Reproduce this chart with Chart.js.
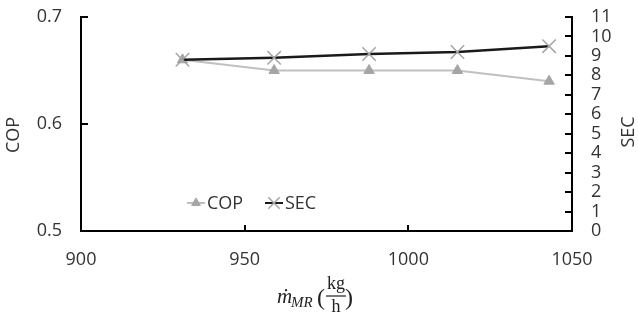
<!DOCTYPE html>
<html>
<head>
<meta charset="utf-8">
<script src="https://cdn.jsdelivr.net/npm/chart.js@4.4.1/dist/chart.umd.min.js"></script>
<style>
  html, body { margin: 0; padding: 0; background: #fff; }
  #wrap { width: 638px; height: 327px; }
</style>
</head>
<body>
<div id="wrap"><canvas id="grafico"></canvas></div>
<script>
// ----- dados -----
const vazao = [931, 959, 988, 1015, 1043];          // m_MR (kg/h)
const copValores = [0.66, 0.65, 0.65, 0.65, 0.64];
const secValores = [8.8, 8.9, 9.1, 9.2, 9.5];
const ticksX = [900, 950, 1000, 1050];
const ticksCop = [0.5, 0.6, 0.7];
const ticksSec = [0, 1, 2, 3, 4, 5, 6, 7, 8, 9, 10, 11];

const FONTE = '"Open Sans", sans-serif';
const COR_TEXTO = "#333333";
const COR_COP = "#a5a5a5";
const COR_SEC = "#1a1a1a";

// ticks para dentro, títulos dos eixos e legenda
const extras = {
  id: "extras",
  afterDraw(chart) {
    const ctx = chart.ctx;
    const { x, y, y2 } = chart.scales;
    const area = chart.chartArea;
    ctx.save();
    ctx.strokeStyle = "#000";
    ctx.lineWidth = 2;
    ctx.beginPath();
    ticksX.slice(1, -1).forEach(v => {
      const px = Math.round(x.getPixelForValue(v));
      ctx.moveTo(px, area.bottom);
      ctx.lineTo(px, area.bottom - 6);
    });
    ticksCop.slice(1).forEach(v => {
      const py = Math.round(y.getPixelForValue(v));
      ctx.moveTo(area.left, py);
      ctx.lineTo(area.left + 7, py);
    });
    ticksSec.slice(1).forEach(v => {
      const py = Math.round(y2.getPixelForValue(v));
      ctx.moveTo(area.right, py);
      ctx.lineTo(area.right - 7, py);
    });
    ctx.stroke();

    // títulos verticais
    ctx.fillStyle = COR_TEXTO;
    ctx.font = "18px " + FONTE;
    ctx.textAlign = "center";
    ctx.textBaseline = "middle";
    [["COP", 13, 135], ["SEC", 628, 132]].forEach(([t, tx, ty]) => {
      ctx.save();
      ctx.translate(tx, ty);
      ctx.rotate(-Math.PI / 2);
      ctx.fillText(t, 0, 1);
      ctx.restore();
    });

    // título do eixo x: m ponto MR (kg/h)
    ctx.fillStyle = "#222";
    ctx.textBaseline = "alphabetic";
    ctx.textAlign = "left";
    ctx.font = 'italic 21px "Liberation Serif", serif';
    ctx.fillText("\u1E41", 277, 303);
    ctx.font = 'italic 15px "Liberation Serif", serif';
    ctx.fillText("MR", 291, 307);
    ctx.font = '24px "Liberation Serif", serif';
    ctx.fillText("(", 317, 305);
    ctx.fillText(")", 345, 305);
    ctx.textAlign = "center";
    ctx.font = '18px "Liberation Serif", serif';
    ctx.fillText("kg", 336, 289);
    ctx.fillText("h", 336, 312);
    ctx.lineWidth = 1.2;
    ctx.strokeStyle = "#222";
    ctx.beginPath();
    ctx.moveTo(326, 296);
    ctx.lineTo(346, 296);
    ctx.stroke();

    // legenda
    const legenda = [
      { txt: "COP", x0: 187, ds: chart.data.datasets[0], cor: "#c0c0c0", lw: 2 },
      { txt: "SEC", x0: 265, ds: chart.data.datasets[1], cor: COR_SEC, lw: 2 }
    ];
    const ly = 203;
    legenda.forEach(l => {
      ctx.strokeStyle = l.cor;
      ctx.lineWidth = l.lw;
      ctx.beginPath();
      ctx.moveTo(l.x0, ly);
      ctx.lineTo(l.x0 + 18, ly);
      ctx.stroke();
      ctx.fillStyle = l.ds.pointBackgroundColor;
      ctx.strokeStyle = l.ds.pointBorderColor;
      ctx.lineWidth = l.ds.pointBorderWidth;
      Chart.helpers.drawPoint(ctx, {
        pointStyle: l.ds.pointStyle,
        radius: l.ds.pointRadius * 0.85,
        borderWidth: l.ds.pointBorderWidth,
        rotation: 0
      }, l.x0 + 9, ly);
      ctx.fillStyle = COR_TEXTO;
      ctx.font = "18px " + FONTE;
      ctx.textAlign = "left";
      ctx.textBaseline = "middle";
      ctx.fillText(l.txt, l.x0 + 20, ly + 1);
    });
    ctx.restore();
  }
};

// largura fixa dos eixos verticais e topo da área em 17px
function fixaEixoY(largura) {
  return s => {
    s.width = largura;
    s.paddingTop = 17;
    s.paddingBottom = 0;
  };
}

new Chart(document.getElementById("grafico"), {
  type: "scatter",
  data: {
    datasets: [
      {
        label: "COP",
        data: vazao.map((v, i) => ({ x: v, y: copValores[i] })),
        yAxisID: "y",
        showLine: true,
        borderColor: "#c0c0c0",
        borderWidth: 2,
        pointStyle: "triangle",
        pointRadius: 6,
        pointBackgroundColor: COR_COP,
        pointBorderColor: COR_COP,
        pointBorderWidth: 1,
        order: 1
      },
      {
        label: "SEC",
        data: vazao.map((v, i) => ({ x: v, y: secValores[i] })),
        yAxisID: "y2",
        showLine: true,
        borderColor: COR_SEC,
        borderWidth: 2.5,
        pointStyle: "crossRot",
        pointRadius: 9.5,
        pointBackgroundColor: COR_COP,
        pointBorderColor: COR_COP,
        pointBorderWidth: 1.5,
        order: 0
      }
    ]
  },
  options: {
    responsive: true,
    maintainAspectRatio: false,
    animation: false,
    layout: { padding: 0 },
    plugins: { legend: { display: false }, tooltip: { enabled: false } },
    scales: {
      x: {
        type: "linear",
        min: 900,
        max: 1050,
        afterBuildTicks: s => { s.ticks = ticksX.map(v => ({ value: v })); },
        afterFit: s => { s.height = 96; },
        grid: { display: false, drawTicks: false },
        border: { display: true, color: "#000", width: 2 },
        ticks: { color: COR_TEXTO, font: { family: FONTE, size: 18 }, padding: 18, maxRotation: 0, callback: v => String(v) }
      },
      y: {
        position: "left",
        min: 0.5,
        max: 0.7,
        afterBuildTicks: s => { s.ticks = ticksCop.map(v => ({ value: v })); },
        afterFit: fixaEixoY(81),
        grid: { display: false, drawTicks: false },
        border: { display: true, color: "#000", width: 2 },
        ticks: { color: COR_TEXTO, font: { family: FONTE, size: 18 }, padding: 19, callback: v => v.toFixed(1) }
      },
      y2: {
        position: "right",
        min: 0,
        max: 11,
        afterBuildTicks: s => { s.ticks = ticksSec.map(v => ({ value: v })); },
        afterFit: fixaEixoY(66),
        grid: { display: false, drawTicks: false },
        border: { display: true, color: "#000", width: 2 },
        ticks: { color: COR_TEXTO, font: { family: FONTE, size: 18 }, padding: 19, autoSkip: false, callback: v => String(v) }
      }
    }
  },
  plugins: [extras]
});
</script>
</body>
</html>
